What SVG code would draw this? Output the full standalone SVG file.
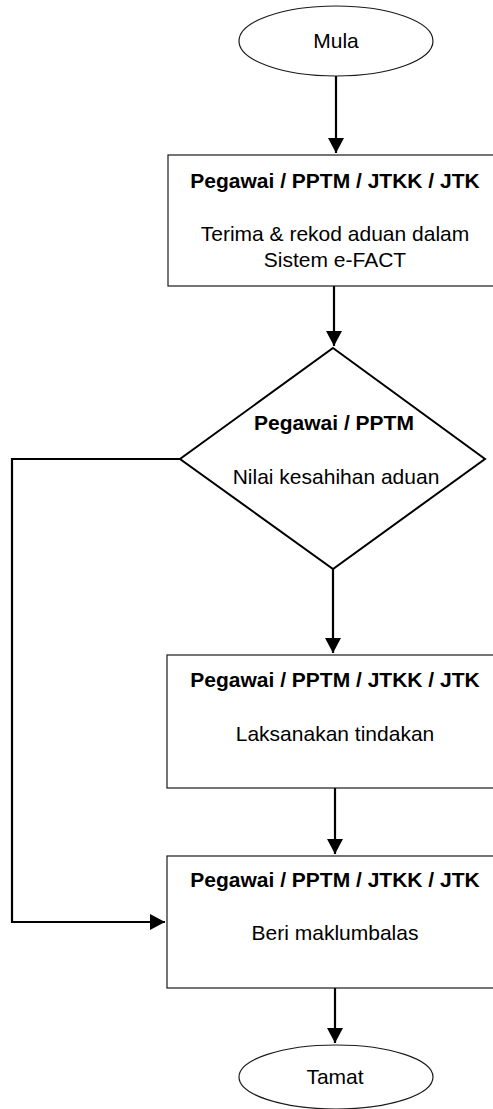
<svg xmlns="http://www.w3.org/2000/svg" width="493" height="1109" viewBox="0 0 493 1109">
<style>
.shape{fill:#fff;stroke:#1a1a1a;stroke-width:1.2}
.conn{fill:none;stroke:#000;stroke-width:2.2}
text{font-family:"Liberation Sans",Arial,sans-serif;font-size:21px;fill:#000;text-anchor:middle}
.b{font-weight:bold}
</style>
<defs>
<marker id="ah" markerUnits="userSpaceOnUse" markerWidth="16" markerHeight="16" viewBox="0 0 16 16" refX="15" refY="8" orient="auto">
<path d="M0,0 L15,8 L0,16 Z" fill="#000"/>
</marker>
</defs>
<g id="connectors">
<path class="conn" d="M336,76 V153" marker-end="url(#ah)"/>
<path class="conn" d="M334,286 V346" marker-end="url(#ah)"/>
<path class="conn" d="M333,569 V653" marker-end="url(#ah)"/>
<path class="conn" d="M335,788 V854" marker-end="url(#ah)"/>
<path class="conn" d="M335,988 V1043" marker-end="url(#ah)"/>
<path class="conn" d="M180,459 H12 V922 H165" marker-end="url(#ah)"/>
</g>
<g id="mula">
<ellipse class="shape" cx="336" cy="41" rx="97" ry="35"/>
<text x="336" y="48">Mula</text>
</g>
<g id="terima">
<rect class="shape" x="168" y="155" width="336" height="131"/>
<text class="b" x="335" y="188">Pegawai / PPTM / JTKK / JTK</text>
<text x="335" y="241">Terima &amp; rekod aduan dalam</text>
<text x="335" y="267">Sistem e-FACT</text>
</g>
<g id="nilai">
<polygon class="shape" style="stroke:#000;stroke-width:2" points="333,348 485,459 333,569 180,459"/>
<text class="b" x="334" y="430">Pegawai / PPTM</text>
<text x="336" y="484">Nilai kesahihan aduan</text>
</g>
<g id="laksana">
<rect class="shape" x="167" y="655" width="337" height="133"/>
<text class="b" x="335" y="687">Pegawai / PPTM / JTKK / JTK</text>
<text x="335" y="741">Laksanakan tindakan</text>
</g>
<g id="maklumbalas">
<rect class="shape" x="167" y="856" width="337" height="132"/>
<text class="b" x="335" y="887">Pegawai / PPTM / JTKK / JTK</text>
<text x="335" y="940">Beri maklumbalas</text>
</g>
<g id="tamat">
<ellipse class="shape" cx="336" cy="1077" rx="97" ry="32"/>
<text x="335" y="1084">Tamat</text>
</g>
</svg>
